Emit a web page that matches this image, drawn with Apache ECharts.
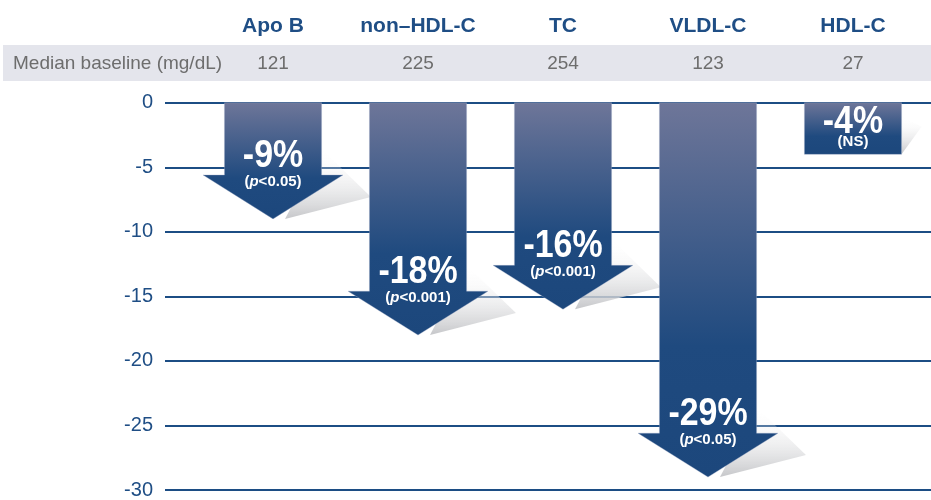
<!DOCTYPE html>
<html>
<head>
<meta charset="utf-8">
<script src="https://cdn.jsdelivr.net/npm/echarts@6/dist/echarts.min.js"></script>
<style>
  html, body { margin: 0; padding: 0; background: #fff; }
  #chart { width: 931px; height: 500px; }
</style>
</head>
<body>
<div id="chart"></div>
<script>
// data
const categories = ['Apo B', 'non\u2013HDL-C', 'TC', 'VLDL-C', 'HDL-C'];
const baseline = [121, 225, 254, 123, 27];
const change = [-9, -18, -16, -29, -4];
const pLabels = ['p<0.05', 'p<0.001', 'p<0.001', 'p<0.05', 'NS'];
const arrowHead = [1, 1, 1, 1, 0];

const blue = '#1f4e85';
const font = 'Liberation Sans, Arial, sans-serif';

function pRich(t) {
  if (t.charAt(0) === 'p') return '{n|(}{i|p}{n|' + t.slice(1) + ')}';
  return '{n|(' + t + ')}';
}

function renderArrow(params, api) {
  const i = api.value(0);
  const v = api.value(1);
  const head = api.value(2);
  const base = api.coord([i, 0]);
  const tip = api.coord([i, v]);
  const cx = base[0], y0 = base[1], yv = tip[1];
  const sw = api.size([0.67, 0])[0] / 2;
  const hw = api.size([0.965, 0])[0] / 2;
  const hh = api.size([0, 3.4])[1];
  const fill = new echarts.graphic.LinearGradient(0, 0, 0, 1, [
    { offset: 0, color: '#6e7699' },
    { offset: 0.65, color: '#1f4a7f' },
    { offset: 1, color: '#1c477c' }
  ]);
  const shadeFill = new echarts.graphic.LinearGradient(0, 0, 0, 1, [
    { offset: 0, color: 'rgba(255,255,255,0)' },
    { offset: 1, color: '#c6c7ca' }
  ]);
  let shape, shadow, bigY, pY;
  if (head) {
    const ht = yv - hh;
    shape = [[cx - sw, y0], [cx + sw, y0], [cx + sw, ht], [cx + hw, ht], [cx, yv], [cx - hw, ht], [cx - sw, ht]];
    shadow = [[cx + sw, ht - 26], [cx + hw + 28, yv - 22], [cx + 12, yv]];
    bigY = yv - 63;
    pY = yv - 37;
  } else {
    shape = [[cx - sw, y0], [cx + sw, y0], [cx + sw, yv], [cx - sw, yv]];
    shadow = [[cx + sw, y0 + 14], [cx + sw + 20, y0 + 24], [cx + sw, yv]];
    bigY = yv - 32;
    pY = yv - 12;
  }
  return {
    type: 'group',
    children: [
      { type: 'polygon', shape: { points: shadow }, style: { fill: shadeFill } },
      { type: 'polygon', shape: { points: shape }, style: { fill: fill, stroke: 'rgba(160,170,200,0.6)', lineWidth: 0.6 } },
      {
        type: 'text', x: cx, y: bigY, scaleX: 0.87,
        style: { text: v + '%', fill: '#fff', font: 'bold 39px ' + font, align: 'center', verticalAlign: 'middle' }
      },
      {
        type: 'text', x: cx, y: pY,
        style: {
          text: pRich(pLabels[i]), align: 'center', verticalAlign: 'middle',
          rich: {
            n: { fill: '#fff', font: 'bold 15px ' + font },
            i: { fill: '#fff', font: 'italic bold 15px ' + font }
          }
        }
      }
    ]
  };
}

const chart = echarts.init(document.getElementById('chart'));
chart.setOption({
  animation: false,
  grid: [
    { left: 165, right: 0, top: 102.7, bottom: 7.3 },
    { left: 200.5, right: 5.5, top: 63, height: 1 }
  ],
  graphic: [
    { type: 'rect', z: -10, shape: { x: 3, y: 45, width: 928, height: 36 }, style: { fill: '#e4e5ec' } },
    { type: 'text', x: 13, y: 64, style: { text: 'Median baseline (mg/dL)', fill: '#6d6d6d', font: '19px ' + font, verticalAlign: 'middle' } }
  ],
  xAxis: [
    { type: 'value', gridIndex: 0, min: -0.745, max: 4.538, show: false },
    {
      type: 'category', gridIndex: 1, position: 'top', data: categories,
      axisLine: { show: false }, axisTick: { show: false },
      axisLabel: { interval: 0, margin: 37, verticalAlign: 'middle', color: blue, fontWeight: 'bold', fontSize: 21, fontFamily: font }
    },
    {
      type: 'category', gridIndex: 1, position: 'bottom', data: baseline,
      axisLine: { show: false }, axisTick: { show: false },
      axisLabel: { interval: 0, margin: 0, verticalAlign: 'middle', color: '#6d6d6d', fontSize: 19, fontFamily: font }
    }
  ],
  yAxis: [
    {
      type: 'value', gridIndex: 0, min: -30, max: 0, interval: 5,
      axisLine: { show: false }, axisTick: { show: false },
      axisLabel: { margin: 12, color: blue, fontSize: 20, fontFamily: font },
      splitLine: { lineStyle: { color: '#1c4d84', width: 2 } }
    },
    { type: 'value', gridIndex: 1, show: false }
  ],
  series: [{
    type: 'custom',
    xAxisIndex: 0,
    yAxisIndex: 0,
    clip: false,
    renderItem: renderArrow,
    encode: { x: 0, y: 1 },
    data: change.map((v, i) => [i, v, arrowHead[i]])
  }]
});
</script>
</body>
</html>
